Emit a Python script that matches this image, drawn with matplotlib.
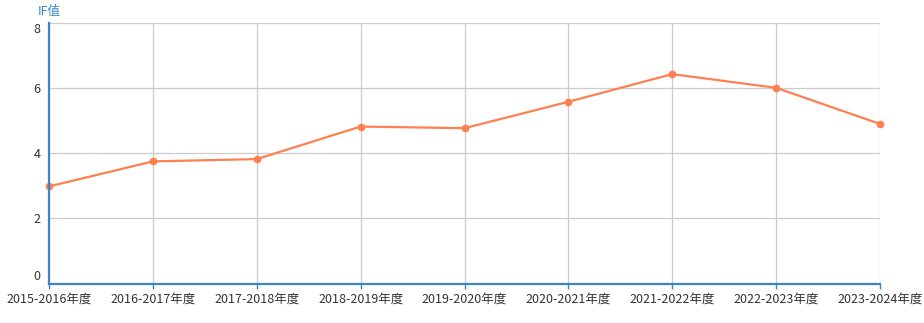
import matplotlib
matplotlib.use("Agg")
import matplotlib.pyplot as plt
from matplotlib.transforms import ScaledTranslation

plt.rcParams['font.family'] = ['Noto Sans CJK SC', 'DejaVu Sans']

categories = ["2015-2016年度", "2016-2017年度", "2017-2018年度", "2018-2019年度",
              "2019-2020年度", "2020-2021年度", "2021-2022年度", "2022-2023年度",
              "2023-2024年度"]
if_values = [2.98, 3.75, 3.82, 4.82, 4.77, 5.58, 6.43, 6.01, 4.90]
y_ticks = [0, 2, 4, 6, 8]
y_name = "IF值"

line_color = "#ff7f50"
axis_color = "#3d86c3"
grid_color = "#cccccc"
text_color = "#333333"

fig = plt.figure(figsize=(9.24, 3.23), dpi=100)
ax = fig.add_axes([49/924, 1-283.5/323, (880-49)/924, (283.5-23)/323])

x = list(range(len(categories)))
ax.plot(x, if_values, color=line_color, lw=1.6, marker='o', ms=4.5,
        markeredgecolor=line_color, zorder=5, clip_on=False)

ax.set_xlim(0, len(categories) - 1)
ax.set_ylim(0, 8)
ax.set_xticks(x)
ax.set_xticklabels(categories)
ax.set_yticks(y_ticks)
ax.set_yticklabels([str(v) for v in y_ticks])

ax.grid(True, color=grid_color, lw=0.9)
ax.set_axisbelow(True)

for s in ['top', 'right']:
    ax.spines[s].set_visible(False)
for s in ['left', 'bottom']:
    ax.spines[s].set_color(axis_color)
    ax.spines[s].set_linewidth(1.6)
    ax.spines[s].set_zorder(6)

ax.tick_params(axis='x', colors=axis_color, length=3.5, width=1, labelcolor=text_color,
               labelsize=9, pad=3)
ax.tick_params(axis='y', length=0, labelcolor=text_color, labelsize=9, pad=6)

ylabels = ax.get_yticklabels()
ylabels[-1].set_va('top')
ylabels[0].set_va('bottom')

fig.text(38/924, 1-11/323, y_name, color=axis_color, fontsize=9, va='center', ha='left')

fig.savefig("out.png", dpi=100)
